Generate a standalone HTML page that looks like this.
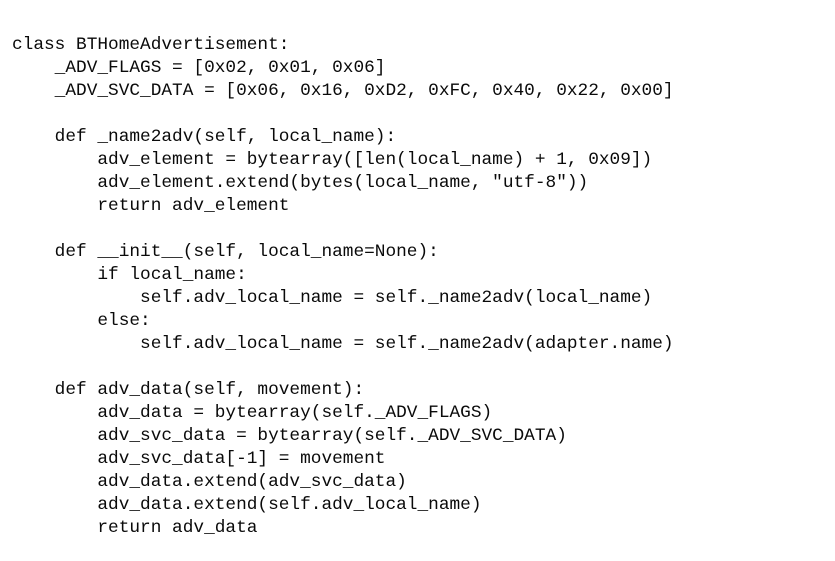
<!DOCTYPE html>
<html><head><meta charset="utf-8"><style>
html,body{margin:0;padding:0;background:#fff;width:835px;height:561px;overflow:hidden}
pre{position:absolute;left:12px;top:34px;margin:0;font-family:"Liberation Mono",monospace;font-size:17.8px;line-height:23px;color:#0a0a0a}
</style></head><body><pre>class BTHomeAdvertisement:
    _ADV_FLAGS = [0x02, 0x01, 0x06]
    _ADV_SVC_DATA = [0x06, 0x16, 0xD2, 0xFC, 0x40, 0x22, 0x00]

    def _name2adv(self, local_name):
        adv_element = bytearray([len(local_name) + 1, 0x09])
        adv_element.extend(bytes(local_name, "utf-8"))
        return adv_element

    def __init__(self, local_name=None):
        if local_name:
            self.adv_local_name = self._name2adv(local_name)
        else:
            self.adv_local_name = self._name2adv(adapter.name)

    def adv_data(self, movement):
        adv_data = bytearray(self._ADV_FLAGS)
        adv_svc_data = bytearray(self._ADV_SVC_DATA)
        adv_svc_data[-1] = movement
        adv_data.extend(adv_svc_data)
        adv_data.extend(self.adv_local_name)
        return adv_data</pre></body></html>
